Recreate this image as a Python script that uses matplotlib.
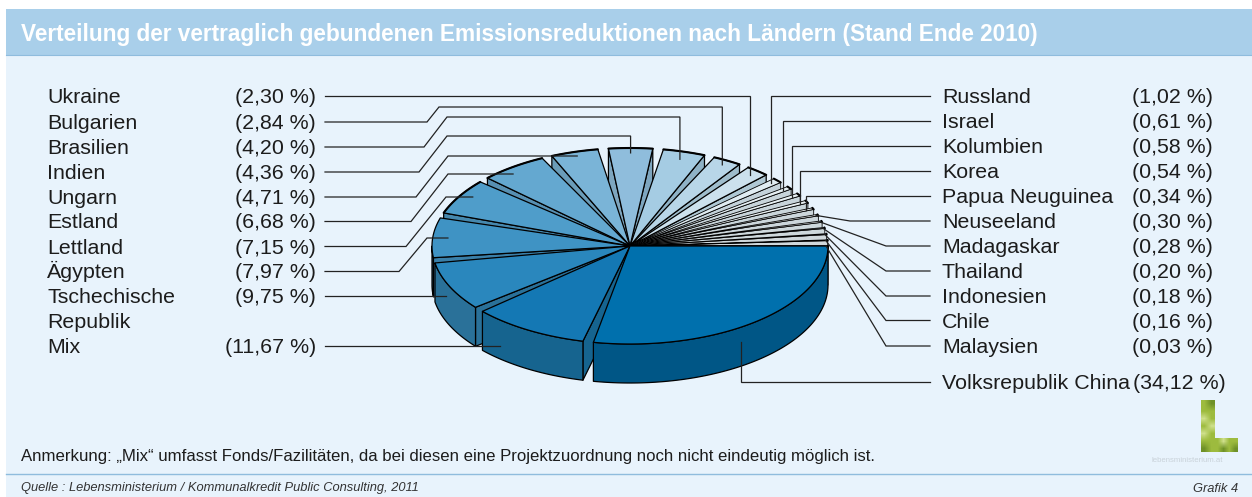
import numpy as np
import matplotlib
matplotlib.use("Agg")
import matplotlib.pyplot as plt
from matplotlib.patches import Polygon, Rectangle
from matplotlib.colors import to_rgb

plt.rcParams['font.family'] = ['Liberation Sans', 'DejaVu Sans']

# slices clockwise starting at 3 o'clock
names = ["Volksrepublik China", "Mix", "Tschechische\nRepublik", "Ägypten", "Lettland", "Estland", "Ungarn",
         "Indien", "Brasilien", "Bulgarien", "Ukraine", "Russland", "Israel", "Kolumbien", "Korea",
         "Papua Neuguinea", "Neuseeland", "Madagaskar", "Thailand", "Indonesien", "Chile", "Malaysien"]
values = [34.12, 11.67, 9.75, 7.97, 7.15, 6.68, 4.71, 4.36, 4.20, 2.84, 2.30,
          1.02, 0.61, 0.58, 0.54, 0.34, 0.30, 0.28, 0.20, 0.18, 0.16, 0.03]
top_colors = ["#0070ad", "#1478b4", "#2a87bd", "#3f93c4", "#4f9dca", "#64a8d0", "#7ab4d7",
              "#8fbddc", "#a5cce3", "#b8d6e8", "#cce1ed", "#e0ecf2", "#e6eff3", "#e8f0f3", "#eaf1f3",
              "#ecf1f3", "#edf2f3", "#eef2f3", "#eff2f3", "#f0f3f3", "#f0f3f3", "#f0f3f3"]
wall_colors = ["#005686", "#16648f", "#2a7199", "#3a7fa8", "#4688ae", "#5890b2", "#6a9cb8",
               "#7ea6bf", "#8fb2c6", "#9fbdcc", "#afc8d4", "#c4d2da", "#c8d4da", "#c8d4da", "#cad6db",
               "#ccd6db", "#ccd6db", "#ced8dc", "#ced8dc", "#d0d8dc", "#d0d8dc", "#d0d8dc"]

title = "Verteilung der vertraglich gebundenen Emissionsreduktionen nach Ländern (Stand Ende 2010)"
note = "Anmerkung: „Mix“ umfasst Fonds/Fazilitäten, da bei diesen eine Projektzuordnung noch nicht eindeutig möglich ist."
source = "Quelle : Lebensministerium / Kommunalkredit Public Consulting, 2011"
graphic = "Grafik 4"
logo_text = "lebensministerium.at"

CX, CY = 630, 246
RX, RY = 198, 98
DEPTH = 39
DEG_PER_PCT = 2.95
GAP = 3.1

BG = "#e8f3fc"
BAND = "#a9cfea"
LINE = "#222222"
TXT = "#1c1c1c"


def rim(t, frac=1.0):
    r = np.radians(t)
    return CX + RX * frac * np.cos(r), CY + RY * frac * np.sin(r)


def slice_angles():
    res = []
    t = 0.0
    for v in values:
        res.append((t, t + v * DEG_PER_PCT))
        t += v * DEG_PER_PCT + GAP
    return res


def front_dist(a, b):
    # how far the slice is from the point nearest to the viewer
    if a <= 90 <= b:
        return 0
    return min(abs(a - 90), abs(b - 90), abs(a - 450), abs(b - 450))


def draw_slice(ax, a, b, top, wall, lw):
    ts = np.linspace(a, b, max(2, int(b - a) + 2))
    xs, ys = rim(ts)
    kw = dict(edgecolor="black", linewidth=lw, joinstyle="round")
    # only the cut faces that look towards the viewer
    if np.cos(np.radians(a)) < 0:
        p = rim(a)
        ax.add_patch(Polygon([(CX, CY), p, (p[0], p[1] + DEPTH), (CX, CY + DEPTH)], facecolor=wall, **kw))
    if np.cos(np.radians(b)) > 0:
        p = rim(b)
        ax.add_patch(Polygon([(CX, CY), p, (p[0], p[1] + DEPTH), (CX, CY + DEPTH)], facecolor=wall, **kw))
    if a < 180:
        tw = np.linspace(a, min(b, 180), max(2, int(min(b, 180) - a) + 2))
        xw, yw = rim(tw)
        pts = list(zip(xw, yw)) + list(zip(xw[::-1], yw[::-1] + DEPTH))
        ax.add_patch(Polygon(pts, facecolor=wall, **kw))
    pts = [(CX, CY)] + list(zip(xs, ys))
    ax.add_patch(Polygon(pts, facecolor=top, **kw))
    if a > 180:
        ax.plot(xs, ys, color="black", lw=1.5, solid_capstyle="round")


def draw_pie(ax):
    angles = slice_angles()
    order = sorted(range(len(values)), key=lambda i: -front_dist(*angles[i]))
    for i in order:
        lw = 0.9 if values[i] > 2 else 0.6
        draw_slice(ax, angles[i][0], angles[i][1], top_colors[i], wall_colors[i], lw)


def leader(ax, pts):
    ax.plot([p[0] for p in pts], [p[1] for p in pts], color=LINE, lw=0.9, solid_joinstyle="miter", zorder=20)


def fmt(v):
    return "(%s %%)" % ("%.2f" % v).replace(".", ",")


def label(ax, x, y, s, ha="left"):
    ax.text(x, y + 7, s, fontsize=15.4, color=TXT, va="baseline", ha=ha, zorder=30)


def draw_labels(ax):
    angles = slice_angles()
    mids = [(a + b) / 2 for a, b in angles]
    # left column, top to bottom: slice index, label y, elbow points, how far out the line ends
    left = [(10, 96, None, 0.945), (9, 122, (427, 439, 107), 0.95), (8, 147, (424, 447, 117), 0.92),
            (7, 172, (419, 447, 136), 0.95), (6, 197, (416, 448, 156), 0.95), (5, 221.5, (411, 448, 174), 1.0),
            (4, 246.5, (406, 446, 197), 0.92), (3, 271.5, (399, 427, 238), 0.923), (2, 296, None, 0),
            (1, 346, None, 0)]
    for i, y, elbow, frac in left:
        parts = names[i].split("\n")
        label(ax, 47, y, parts[0])
        if len(parts) > 1:
            label(ax, 47, y + 25, parts[1])
        label(ax, 316, y, fmt(values[i]), ha="right")
        ex, ey = rim(mids[i], frac)
        if i == 10:
            leader(ax, [(325, y), (ex, y), (ex, ey)])
        elif i == 2:
            leader(ax, [(325, y), (446, y)])
        elif i == 1:
            leader(ax, [(325, y), (500, y)])
        elif i in (7, 8, 9):
            leader(ax, [(325, y), (elbow[0], y), (elbow[1], elbow[2]), (ex, elbow[2]), (ex, ey)])
        else:
            leader(ax, [(325, y), (elbow[0], y), (elbow[1], elbow[2]), (ex, elbow[2])])

    # right column
    right_up = [(11, 96), (12, 121), (13, 146), (14, 171), (15, 196)]
    for i, y in right_up:
        label(ax, 942, y, names[i])
        label(ax, 1213, y, fmt(values[i]), ha="right")
        ex, ey = rim(mids[i], 0.96)
        leader(ax, [(930, y), (ex, y), (ex, ey)])
    right_low = [(16, 221, 850), (17, 246, 886), (18, 271, 886), (19, 296, 886), (20, 320.5, 886), (21, 346, 886)]
    for i, y, ex in right_low:
        label(ax, 942, y, names[i])
        label(ax, 1213, y, fmt(values[i]), ha="right")
        leader(ax, [(930, y), (ex, y), rim(mids[i], 0.99)])

    label(ax, 942, 382, names[0])
    label(ax, 1226, 382, fmt(values[0]), ha="right")
    leader(ax, [(930, 382), (741, 382), (741, 342)])


def draw_logo(ax):
    light = to_rgb("#cfe08c")
    mid = to_rgb("#9dbb3e")
    dark = to_rgb("#6f9128")
    bar = np.array([[mid, dark], [mid, mid], [light, mid], [mid, light], [light, mid], [mid, mid], [dark, mid]])
    foot = np.array([[mid, light, mid, mid], [mid, dark, mid, dark]])
    ax.imshow(bar, extent=(1201, 1215, 452, 400), interpolation="bilinear", aspect="auto", zorder=5)
    ax.imshow(foot, extent=(1215, 1238, 452, 438), interpolation="bilinear", aspect="auto", zorder=5)
    ax.text(1187, 460, logo_text, fontsize=5.6, color="#c9d2d9", ha="center", va="center")


def main():
    fig = plt.figure(figsize=(12.52, 4.97), dpi=100, facecolor="white")
    ax = fig.add_axes([0, 0, 1, 1])
    ax.axis("off")

    ax.add_patch(Rectangle((6, 9), 1246, 488, facecolor=BG, edgecolor="none"))
    ax.add_patch(Rectangle((6, 9), 1246, 46, facecolor=BAND, edgecolor="none"))
    ax.plot([6, 1252], [55, 55], color="#8fbcdd", lw=0.8)
    ax.plot([6, 1252], [474, 474], color="#8fbcdd", lw=1.0)

    ax.text(21, 34, title, fontsize=16.3, fontweight="bold", color="white", va="center", ha="left")
    ax.text(21, 456, note, fontsize=12.05, color=TXT, va="center", ha="left")
    ax.text(21, 488.5, source, fontsize=9.3, style="italic", color="#333333", va="center", ha="left")
    ax.text(1238, 488.5, graphic, fontsize=9.3, style="italic", color="#333333", va="center", ha="right")

    draw_pie(ax)
    draw_labels(ax)
    draw_logo(ax)

    ax.set_xlim(0, 1252)
    ax.set_ylim(497, 0)
    fig.savefig("out.png", dpi=100)


if __name__ == "__main__":
    main()
